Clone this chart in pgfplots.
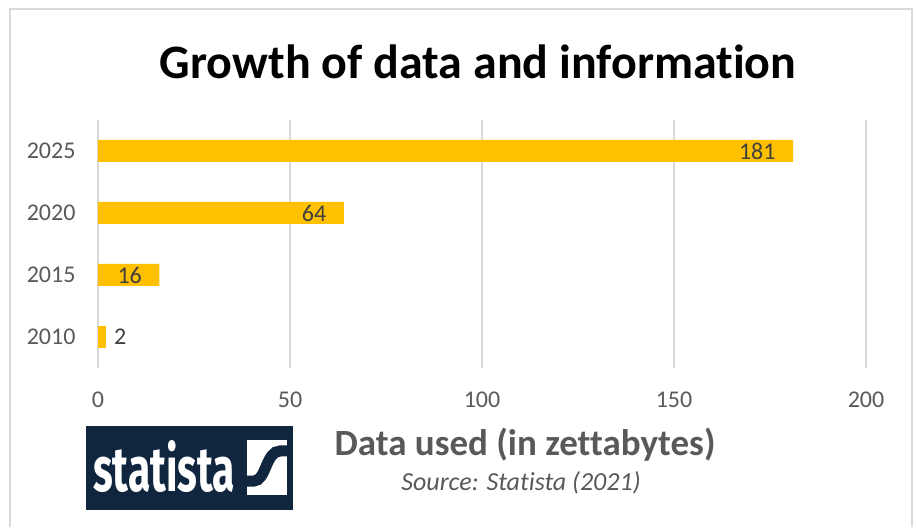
\documentclass[border=0pt]{standalone}
\usepackage{fontspec}
\setmainfont{Carlito}[Ligatures={NoCommon}]
\newfontfamily\logofont{Fira Sans}
\usepackage{pgfplots}
\pgfplotsset{compat=1.18}
\definecolor{barc}{HTML}{FFC000}
\definecolor{gridc}{HTML}{D9D9D9}
\definecolor{tickc}{HTML}{595959}
\definecolor{labc}{HTML}{404040}
\definecolor{navy}{HTML}{10263F}
\begin{document}
\begin{tikzpicture}[x=1pt,y=1pt]
\path (0,0) rectangle (916,527);
\draw[gridc, line width=1.8pt] (10,0) -- (10,518) -- (912,518) -- (912,0);
\node[font=\fontsize{48}{56}\selectfont\bfseries, text=black] at (478,465) {Growth of data and information};
\begin{axis}[
  at={(98pt,159pt)}, anchor=south west,
  scale only axis, width=768pt, height=248pt,
  xmin=0, xmax=200, ymin=-0.5, ymax=3.5,
  xtick={0,50,100,150,200},
  ytick={0,1,2,3},
  yticklabels={2010,2015,2020,2025},
  axis line style={draw=none},
  major tick length=0pt,
  xmajorgrids, grid style={gridc, line width=1.6pt},
  /pgf/number format/assume math mode=true,
  ticklabel style={font=\fontsize{24}{28}\selectfont, text=tickc},
  xticklabel style={yshift=-20pt},
  yticklabel style={xshift=-19pt},
  clip=false,
]
\addplot[xbar, bar width=22pt, fill=barc, draw=none,
  nodes near coords, point meta=explicit symbolic,
  every node near coord/.append style={anchor=east, xshift=-14pt, font=\fontsize{24}{28}\selectfont, text=labc}]
  coordinates {(16,1) [16] (64,2) [64] (181,3) [181]};
\addplot[xbar, bar width=22pt, fill=barc, draw=none,
  nodes near coords, point meta=explicit symbolic,
  every node near coord/.append style={anchor=west, xshift=5pt, font=\fontsize{24}{28}\selectfont, text=labc}]
  coordinates {(2,0) [2]};
\end{axis}
\node[font=\fontsize{37}{44}\selectfont\bfseries, text=tickc] at (525,82) {Data used (in zettabytes)};
\node[font=\fontsize{26}{31}\selectfont\itshape, text=tickc] at (521,44) {Source: Statista (2021)};
% logo
\fill[navy] (86,17) rectangle (293,101);
\node[anchor=south west, inner sep=0pt, text=white] at (93,34) {\resizebox{142pt}{51pt}{\logofont\bfseries statista}};
\begin{scope}
\fill[white] (247,32) rectangle (287,87);
\clip (247,32) rectangle (287,87);
\draw[navy, line width=11pt] (240,46) -- (254,46) .. controls (266,46) and (266,76) .. (280,76) -- (295,76);
\end{scope}
\end{tikzpicture}
\end{document}
